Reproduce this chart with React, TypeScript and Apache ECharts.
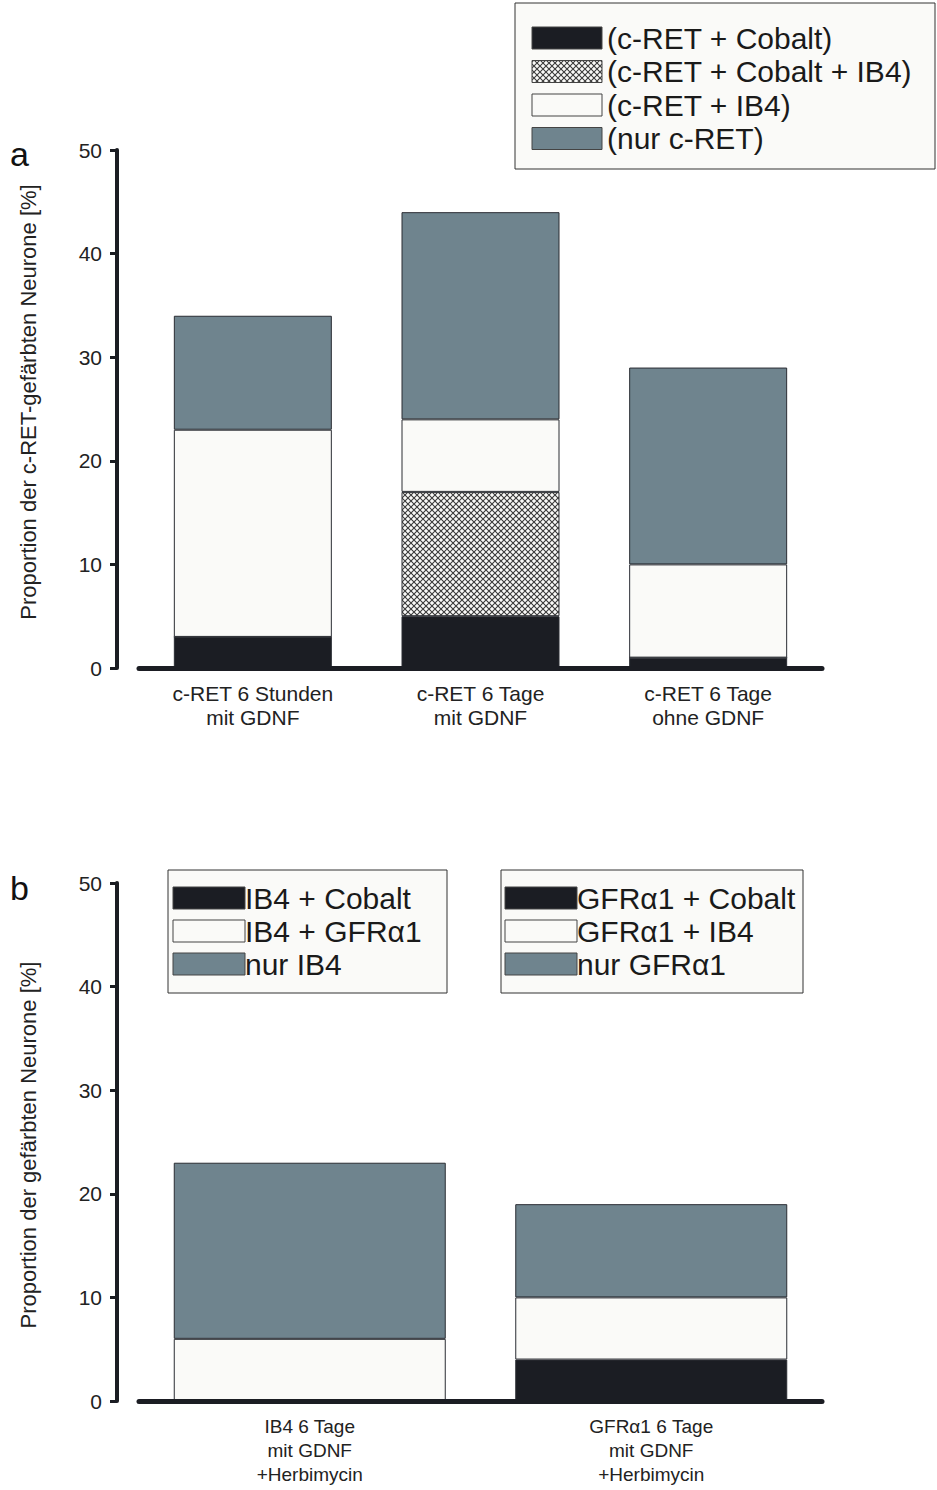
import React, { useEffect, useRef } from "react";
import * as echarts from "echarts";

// ---- Data ----
const categoriesA = ["c-RET 6 Stunden\nmit GDNF", "c-RET 6 Tage\nmit GDNF", "c-RET 6 Tage\nohne GDNF"];
const cretCobaltA = [3, 5, 1];
const cretCobaltIb4A = [0, 12, 0];
const cretIb4A = [20, 7, 9];
const nurCretA = [11, 20, 19];
const legendA = ["(c-RET + Cobalt)", "(c-RET + Cobalt + IB4)", "(c-RET + IB4)", "(nur c-RET)"];

const categoriesB = ["IB4 6 Tage\nmit GDNF\n+Herbimycin", "GFRα1 6 Tage\nmit GDNF\n+Herbimycin"];
const cobaltB = [0, 4];
const doubleB = [6, 6];
const onlyB = [17, 9];
const legendB1 = ["IB4 + Cobalt", "IB4 + GFRα1", "nur IB4"];
const legendB2 = ["GFRα1 + Cobalt", "GFRα1 + IB4", "nur GFRα1"];

const yTicks = [0, 10, 20, 30, 40, 50];

const BLACK = "#1b1d23";
const WHITE = "#fafaf8";
const GRAY = "#6f848e";
const EDGE = "#2a2d33";
const FONT = "Liberation Sans, Arial, sans-serif";

function makeHatch() {
  const c = document.createElement("canvas");
  c.width = 6;
  c.height = 6;
  const ctx = c.getContext("2d")!;
  ctx.fillStyle = WHITE;
  ctx.fillRect(0, 0, 6, 6);
  ctx.strokeStyle = "#3a3a3a";
  ctx.lineWidth = 1.1;
  ctx.beginPath();
  ctx.moveTo(0, 0);
  ctx.lineTo(6, 6);
  ctx.moveTo(6, 0);
  ctx.lineTo(0, 6);
  ctx.stroke();
  return { image: c.toDataURL(), imageWidth: 6, imageHeight: 6, repeat: "repeat" };
}

export default function App() {
  const ref = useRef<HTMLDivElement>(null);
  useEffect(() => {
    if (!ref.current) return;
    const chart = echarts.init(ref.current, null, { renderer: "svg" });
    const hatch: any = makeHatch();

    const yAxisCommon = (gridIndex: number) => ({
      type: "value",
      gridIndex,
      min: yTicks[0],
      max: yTicks[yTicks.length - 1],
      interval: 10,
      offset: 22,
      axisLine: { show: true, lineStyle: { color: BLACK, width: 4 } },
      axisTick: { show: true, length: 7, lineStyle: { color: BLACK, width: 3 } },
      axisLabel: { color: "#222", fontSize: 21, fontFamily: FONT, margin: 15 },
      splitLine: { show: false },
    });
    const xAxisCommon = (gridIndex: number, data: string[], fs: number) => ({
      type: "category",
      gridIndex,
      data,
      z: 5,
      axisLine: { show: true, lineStyle: { color: BLACK, width: 5 } },
      axisTick: { show: false },
      axisLabel: { color: "#222", fontSize: fs, fontFamily: FONT, lineHeight: 24, margin: 13 },
    });

    const barStyle = (color: any) => ({ color, borderColor: EDGE, borderWidth: 1 });

    const legendGraphic = (
      x: number, y: number, w: number, h: number,
      rows: { label: string; fill: any }[],
      sx: number, sy: number, sw: number, sh: number, step: number, tx: number, fs: number
    ) => {
      const children: any[] = [
        { type: "rect", shape: { x, y, width: w, height: h }, style: { fill: WHITE, stroke: "#333", lineWidth: 1 } },
      ];
      rows.forEach((r, i) => {
        const cy = sy + i * step;
        children.push({ type: "rect", shape: { x: sx, y: cy - sh / 2, width: sw, height: sh }, style: { fill: r.fill, stroke: "#444", lineWidth: 1 } });
        children.push({ type: "text", x: tx, y: cy, style: { text: r.label, font: `${fs}px ${FONT}`, fill: "#1a1a1a", verticalAlign: "middle", align: "left" } });
      });
      return children;
    };

    const option: any = {
      animation: false,
      backgroundColor: "#ffffff",
      grid: [
        { left: 139, right: 115, top: 150, height: 518 },
        { left: 139, right: 115, top: 883, height: 518 },
      ],
      xAxis: [xAxisCommon(0, categoriesA, 21), xAxisCommon(1, categoriesB, 19)],
      yAxis: [yAxisCommon(0), yAxisCommon(1)],
      series: [
        { name: legendA[0], type: "bar", xAxisIndex: 0, yAxisIndex: 0, stack: "a", barWidth: 158, data: cretCobaltA, itemStyle: barStyle(BLACK) },
        { name: legendA[1], type: "bar", xAxisIndex: 0, yAxisIndex: 0, stack: "a", barWidth: 158, data: cretCobaltIb4A, itemStyle: barStyle(hatch) },
        { name: legendA[2], type: "bar", xAxisIndex: 0, yAxisIndex: 0, stack: "a", barWidth: 158, data: cretIb4A, itemStyle: barStyle(WHITE) },
        { name: legendA[3], type: "bar", xAxisIndex: 0, yAxisIndex: 0, stack: "a", barWidth: 158, data: nurCretA, itemStyle: barStyle(GRAY) },
        { name: "Cobalt", type: "bar", xAxisIndex: 1, yAxisIndex: 1, stack: "b", barWidth: 272, data: cobaltB, itemStyle: barStyle(BLACK) },
        { name: "Doppelt", type: "bar", xAxisIndex: 1, yAxisIndex: 1, stack: "b", barWidth: 272, data: doubleB, itemStyle: barStyle(WHITE) },
        { name: "Nur", type: "bar", xAxisIndex: 1, yAxisIndex: 1, stack: "b", barWidth: 272, data: onlyB, itemStyle: barStyle(GRAY) },
      ],
      graphic: [
        { type: "text", x: 10, y: 154, style: { text: "a", font: `34px ${FONT}`, fill: "#111", verticalAlign: "middle" } },
        { type: "text", x: 10, y: 888, style: { text: "b", font: `34px ${FONT}`, fill: "#111", verticalAlign: "middle" } },
        { type: "text", x: 28, y: 402, rotation: Math.PI / 2, style: { text: "Proportion der c-RET-gefärbten Neurone [%]", font: `22px ${FONT}`, fill: "#222", align: "center", verticalAlign: "middle" } },
        { type: "text", x: 28, y: 1145, rotation: Math.PI / 2, style: { text: "Proportion der gefärbten Neurone [%]", font: `22px ${FONT}`, fill: "#222", align: "center", verticalAlign: "middle" } },
        ...legendGraphic(515, 3, 420, 166,
          [
            { label: legendA[0], fill: BLACK },
            { label: legendA[1], fill: hatch },
            { label: legendA[2], fill: WHITE },
            { label: legendA[3], fill: GRAY },
          ], 532, 38, 70, 22, 33.5, 607, 30),
        ...legendGraphic(168, 870, 279, 123,
          [
            { label: legendB1[0], fill: BLACK },
            { label: legendB1[1], fill: WHITE },
            { label: legendB1[2], fill: GRAY },
          ], 173, 898, 72, 22, 33, 245, 30),
        ...legendGraphic(501, 870, 302, 123,
          [
            { label: legendB2[0], fill: BLACK },
            { label: legendB2[1], fill: WHITE },
            { label: legendB2[2], fill: GRAY },
          ], 505, 898, 72, 22, 33, 577, 30),
      ],
    };
    chart.setOption(option);
    return () => chart.dispose();
  }, []);
  return <div ref={ref} style={{ position: "absolute", left: 0, top: 0, width: 937, height: 1490 }} />;
}
